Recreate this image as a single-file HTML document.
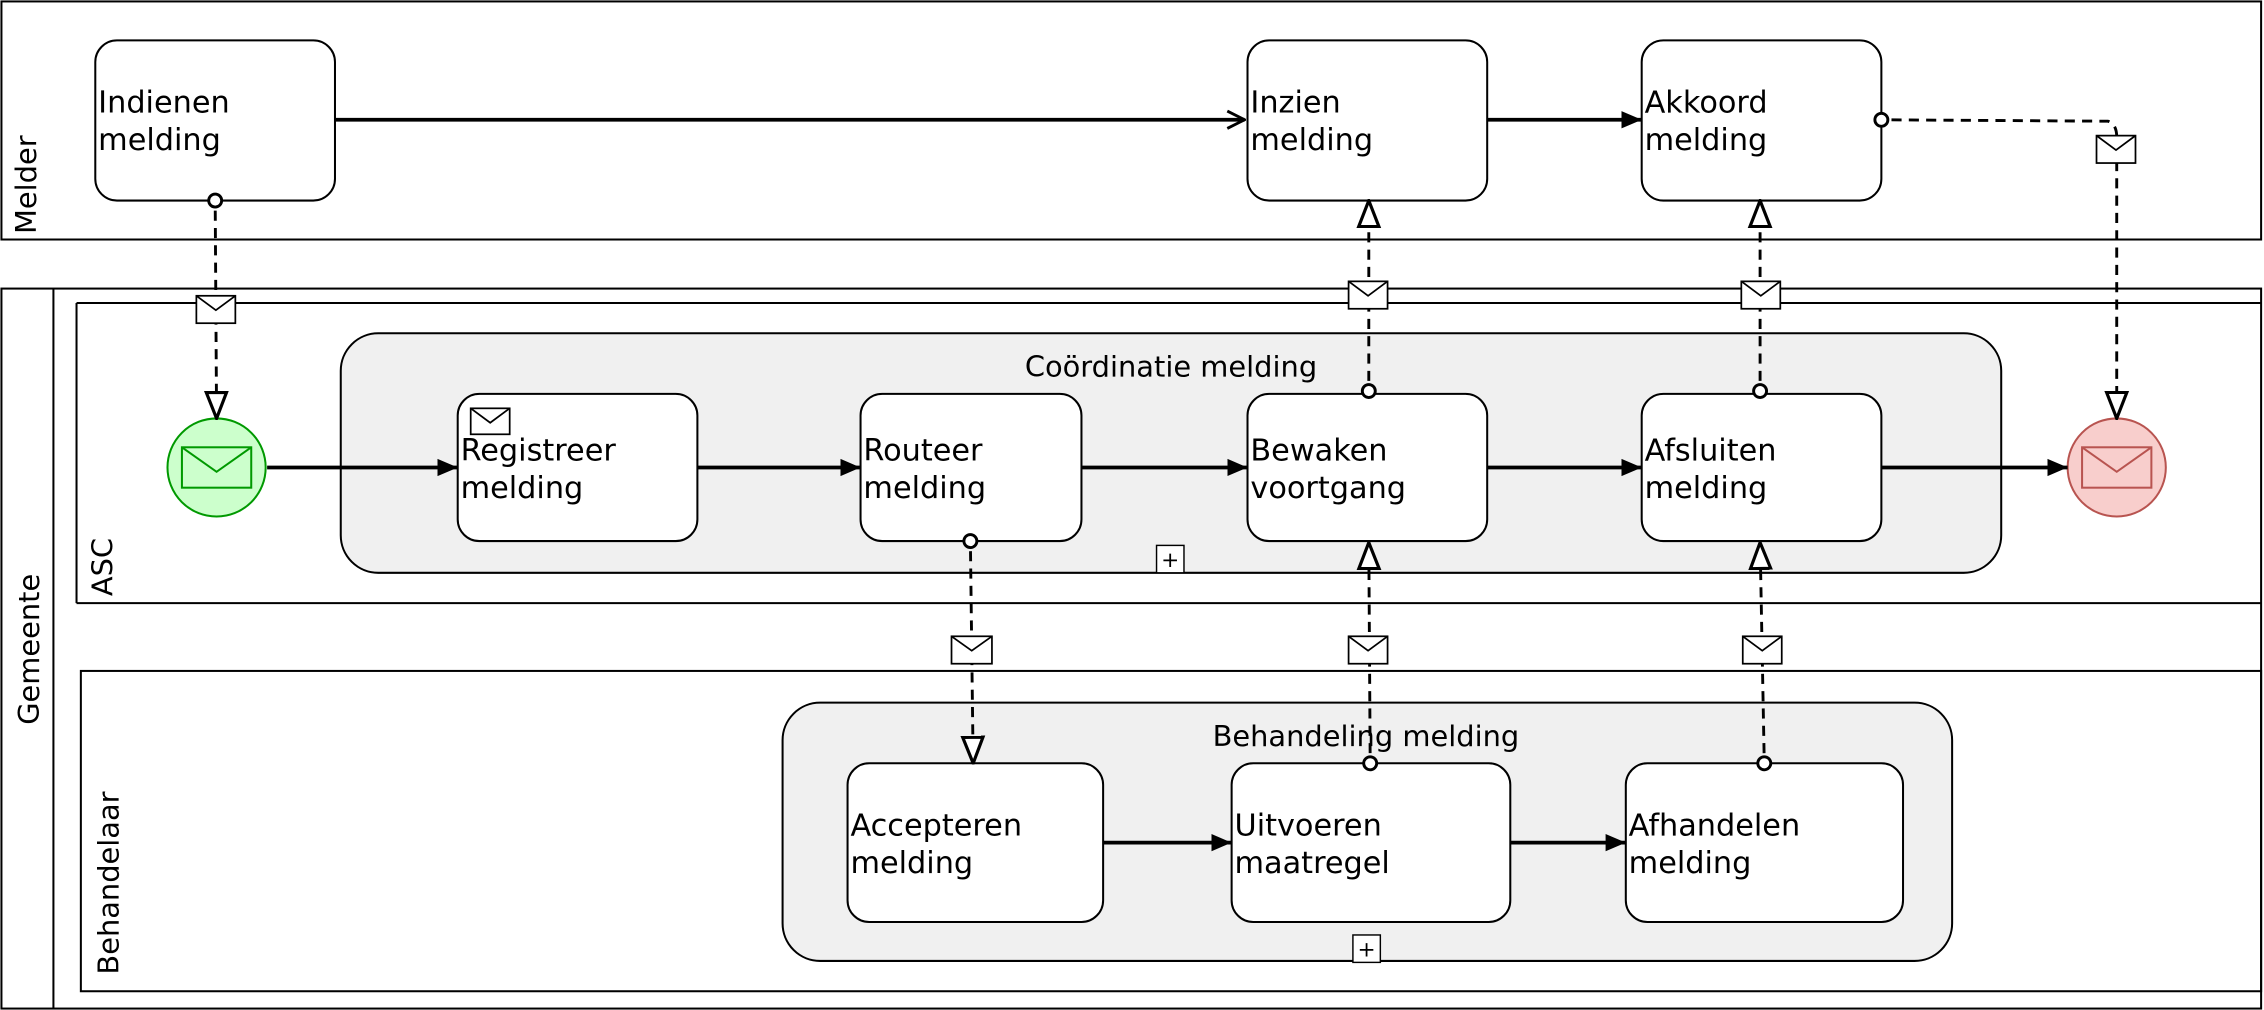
<!DOCTYPE html>
<html><head><meta charset="utf-8"><style>html,body{margin:0;padding:0;background:#fff}svg{display:block}</style></head>
<body>
<svg width="2264" height="1010" viewBox="0 0 1568 700" preserveAspectRatio="none" xmlns="http://www.w3.org/2000/svg" font-family="DejaVu Sans, Liberation Sans, sans-serif">
<defs>
<marker id="fa" viewBox="0 0 10 10" refX="10" refY="5" markerWidth="7" markerHeight="7" markerUnits="userSpaceOnUse" orient="auto"><path d="M0,0L10,5L0,10z" fill="#000"/></marker>
<marker id="fb" viewBox="0 0 14 14" refX="14" refY="7" markerWidth="14" markerHeight="14" markerUnits="userSpaceOnUse" orient="auto"><path d="M0,1L14,7L0,13z" fill="#000"/></marker>
<marker id="oa" viewBox="0 0 14 14" refX="13" refY="7" markerWidth="14" markerHeight="14" markerUnits="userSpaceOnUse" orient="auto"><path d="M1,1L13,7L1,13" fill="none" stroke="#000" stroke-width="2"/></marker>
<marker id="ht" viewBox="0 0 20 20" refX="19" refY="10" markerWidth="20" markerHeight="20" markerUnits="userSpaceOnUse" orient="auto"><path d="M1,3L19,10L1,17z" fill="#fff" stroke="#000" stroke-width="2.2"/></marker>
<marker id="oc" viewBox="0 0 12 12" refX="1" refY="6" markerWidth="12" markerHeight="12" markerUnits="userSpaceOnUse" orient="auto"><circle cx="6" cy="6" r="4.5" fill="#fff" stroke="#000" stroke-width="2"/></marker>
</defs>
<g fill="none" stroke="#000" stroke-width="1.4">
<rect x="1" y="1" width="1565" height="165"/>
<rect x="1" y="200" width="1565" height="499"/>
<line x1="37" y1="200" x2="37" y2="699"/>
<line x1="53" y1="210" x2="1566" y2="210"/>
<line x1="53" y1="210" x2="53" y2="418"/>
<line x1="53" y1="418" x2="1566" y2="418"/>
<rect x="56" y="465" width="1510" height="222"/>
</g>
<g font-size="20" fill="#000">
<text transform="translate(25,128) rotate(-90)" text-anchor="middle">Melder</text>
<text transform="translate(27,450) rotate(-90)" text-anchor="middle">Gemeente</text>
<text transform="translate(78,393) rotate(-90)" text-anchor="middle">ASC</text>
<text transform="translate(82,612) rotate(-90)" text-anchor="middle">Behandelaar</text>
</g>
<!-- subprocesses -->
<rect x="236" y="231" width="1150" height="166" rx="26" fill="#f0f0f0" stroke="#000" stroke-width="1.4"/>
<rect x="542" y="487" width="810" height="179" rx="26" fill="#f0f0f0" stroke="#000" stroke-width="1.4"/>
<g font-size="20" text-anchor="middle"><text x="811" y="261">Coördinatie melding</text><text x="946" y="517">Behandeling melding</text></g>
<g fill="#fff" stroke="#000" stroke-width="1"><rect x="801" y="378" width="19" height="19"/><rect x="937" y="648" width="19" height="19"/></g>
<g font-size="15" text-anchor="middle"><text x="810.5" y="393">+</text><text x="946.5" y="663">+</text></g>
<!-- tasks -->
<g fill="#fff" stroke="#000" stroke-width="1.4">
<rect x="66" y="28" width="166" height="111" rx="15"/>
<rect x="864" y="28" width="166" height="111" rx="15"/>
<rect x="1137" y="28" width="166" height="111" rx="15"/>
<rect x="317" y="273" width="166" height="102" rx="15"/>
<rect x="596" y="273" width="153" height="102" rx="15"/>
<rect x="864" y="273" width="166" height="102" rx="15"/>
<rect x="1137" y="273" width="166" height="102" rx="15"/>
<rect x="587" y="529" width="177" height="110" rx="15"/>
<rect x="853" y="529" width="193" height="110" rx="15"/>
<rect x="1126" y="529" width="192" height="110" rx="15"/>
</g>
<g font-size="21">
<text x="68" y="78">Indienen</text><text x="68" y="104">melding</text>
<text x="866" y="78">Inzien</text><text x="866" y="104">melding</text>
<text x="1139" y="78">Akkoord</text><text x="1139" y="104">melding</text>
<text x="319" y="319">Registreer</text><text x="319" y="345">melding</text>
<text x="598" y="319">Routeer</text><text x="598" y="345">melding</text>
<text x="866" y="319">Bewaken</text><text x="866" y="345">voortgang</text>
<text x="1139" y="319">Afsluiten</text><text x="1139" y="345">melding</text>
<text x="589" y="579">Accepteren</text><text x="589" y="605">melding</text>
<text x="855" y="579">Uitvoeren</text><text x="855" y="605">maatregel</text>
<text x="1128" y="579">Afhandelen</text><text x="1128" y="605">melding</text>
</g>
<!-- small envelope in Registreer -->
<g fill="#fff" stroke="#000" stroke-width="1.2"><rect x="326" y="283" width="27" height="18"/><path d="M326,283L339.5,293L353,283" fill="none"/></g>
<!-- events -->
<circle cx="150" cy="324" r="34" fill="#ccffcc" stroke="#009900" stroke-width="1.4"/>
<g fill="none" stroke="#009900" stroke-width="1.4"><rect x="126" y="310" width="48" height="28"/><path d="M126,310L150,327L174,310"/></g>
<circle cx="1466" cy="324" r="34" fill="#f8cecc" stroke="#b85450" stroke-width="1.4"/>
<g fill="none" stroke="#b85450" stroke-width="1.4"><rect x="1442" y="310" width="48" height="28"/><path d="M1442,310L1466,327L1490,310"/></g>
<!-- sequence flows -->
<g stroke="#000" stroke-width="2.6" fill="none">
<line x1="232" y1="83" x2="862" y2="83" marker-end="url(#oa)"/>
<line x1="1030" y1="83" x2="1137" y2="83" marker-end="url(#fb)"/>
<line x1="185" y1="324" x2="317" y2="324" marker-end="url(#fb)"/>
<line x1="483" y1="324" x2="596" y2="324" marker-end="url(#fb)"/>
<line x1="749" y1="324" x2="864" y2="324" marker-end="url(#fb)"/>
<line x1="1030" y1="324" x2="1137" y2="324" marker-end="url(#fb)"/>
<line x1="1303" y1="324" x2="1432" y2="324" marker-end="url(#fb)"/>
<line x1="764" y1="584" x2="853" y2="584" marker-end="url(#fb)"/>
<line x1="1046" y1="584" x2="1126" y2="584" marker-end="url(#fb)"/>
</g>
<!-- message flows -->
<g stroke="#000" stroke-width="2" fill="none" stroke-dasharray="7,5">
<path d="M149,134L150,290" marker-start="url(#oc)" marker-end="url(#ht)"/>
<path d="M948,276L948,139" marker-start="url(#oc)" marker-end="url(#ht)"/>
<path d="M1219,276L1219,139" marker-start="url(#oc)" marker-end="url(#ht)"/>
<path d="M1298,83L1460,84Q1466,86 1466,95L1466,290" marker-start="url(#oc)" marker-end="url(#ht)"/>
<path d="M672,370L674,529" marker-start="url(#oc)" marker-end="url(#ht)"/>
<path d="M949,534L948,376" marker-start="url(#oc)" marker-end="url(#ht)"/>
<path d="M1222,534L1219,376" marker-start="url(#oc)" marker-end="url(#ht)"/>
</g>
<g fill="#fff" stroke="#000" stroke-width="1.2">
<rect x="136" y="205" width="27" height="19"/><path d="M136,205L149.5,215L163,205" fill="none"/>
<rect x="934" y="195" width="27" height="19"/><path d="M934,195L947.5,205L961,195" fill="none"/>
<rect x="1206" y="195" width="27" height="19"/><path d="M1206,195L1219.5,205L1233,195" fill="none"/>
<rect x="1452" y="94" width="27" height="19"/><path d="M1452,94L1465.5,104L1479,94" fill="none"/>
<rect x="659" y="441" width="28" height="19"/><path d="M659,441L673,451L687,441" fill="none"/>
<rect x="934" y="441" width="27" height="19"/><path d="M934,441L947.5,451L961,441" fill="none"/>
<rect x="1207" y="441" width="27" height="19"/><path d="M1207,441L1220.5,451L1234,441" fill="none"/>
</g>
</svg>
</body></html>
